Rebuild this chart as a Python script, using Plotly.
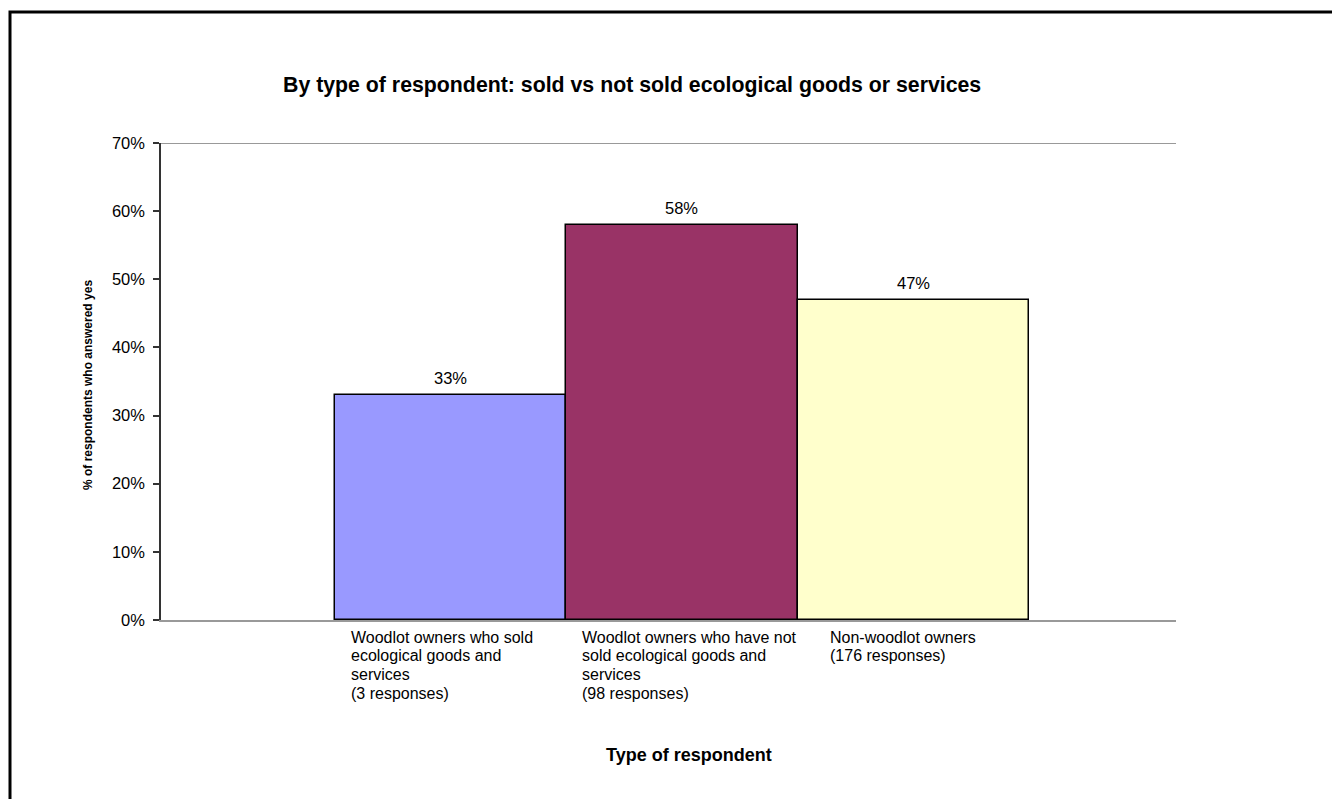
import plotly.graph_objects as go

# Survey results: share of respondents who answered yes, by respondent type
categories = [
    "Woodlot owners who sold<br>ecological goods and<br>services<br>(3 responses)",
    "Woodlot owners who have not<br>sold ecological goods and<br>services<br>(98 responses)",
    "Non-woodlot owners<br>(176 responses)",
]
values = [0.33, 0.58, 0.47]
colors = ["#9999FF", "#993366", "#FFFFCC"]
positions = [0, 1, 2]

FONT = "Liberation Sans, Arial, sans-serif"

fig = go.Figure()
fig.add_trace(go.Bar(
    x=positions,
    y=values,
    width=1.0,
    marker=dict(color=colors, line=dict(color="#000000", width=1.5)),
    hoverinfo="skip",
    showlegend=False,
))

# value labels above each bar
for xp, v in zip(positions, values):
    fig.add_annotation(
        x=xp, y=v, xref="x", yref="y",
        text=f"{round(v * 100)}%",
        showarrow=False, yanchor="bottom", yshift=6,
        font=dict(family=FONT, size=16.5, color="#000000"),
    )

# category labels, left-aligned under each bar, one line at a time
label_offsets = [0.06, 0.06, 0.13]
LINE_STEP = 18.7
for xp, lab, off in zip(positions, categories, label_offsets):
    for i, line in enumerate(lab.split("<br>")):
        fig.add_annotation(
            x=xp - 0.5 + off, y=0, xref="x", yref="y",
            text=line, showarrow=False,
            xanchor="left", yanchor="middle", align="left",
            yshift=-(17 + i * LINE_STEP),
            font=dict(family=FONT, size=16, color="#000000"),
        )

# top boundary line of the plot area
fig.add_shape(type="line", xref="paper", yref="y", x0=0, x1=1, y0=0.7, y1=0.7,
              line=dict(color="#999999", width=2))

# chart frame (left and top edges visible)
fig.add_shape(type="rect", xref="paper", yref="paper",
              x0=(10 - 161) / 1015, x1=(1345 - 161) / 1015,
              y0=(620 - 815) / 477, y1=(620 - 12) / 477,
              line=dict(color="#000000", width=3), layer="above")

fig.add_annotation(
    x=(632 - 161) / 1015, y=(620 - 85) / 477, xref="paper", yref="paper",
    text="<b>By type of respondent: sold vs not sold ecological goods or services</b>",
    showarrow=False, xanchor="center", yanchor="middle",
    font=dict(family=FONT, size=21.3, color="#000000"),
)
fig.add_annotation(
    x=(689 - 161) / 1015, y=(620 - 755) / 477, xref="paper", yref="paper",
    text="<b>Type of respondent</b>",
    showarrow=False, xanchor="center", yanchor="middle",
    font=dict(family=FONT, size=18, color="#000000"),
)
fig.add_annotation(
    x=(88 - 161) / 1015, y=(620 - 385) / 477, xref="paper", yref="paper",
    text="<b>% of respondents who answered yes</b>", textangle=-90,
    showarrow=False, xanchor="center", yanchor="middle",
    font=dict(family=FONT, size=12, color="#000000"),
)

fig.update_layout(
    width=1332, height=799,
    margin=dict(l=161, r=156, t=143, b=179),
    paper_bgcolor="#FFFFFF", plot_bgcolor="#FFFFFF",
    bargap=0,
    font=dict(family=FONT, color="#000000"),
)
fig.update_xaxes(
    range=[-1.252, 3.136], showticklabels=False, ticks="",
    showgrid=False, zeroline=False,
    showline=True, linecolor="#999999", linewidth=2,
)
fig.update_yaxes(
    range=[0, 0.7], dtick=0.1, tickformat=".0%",
    showgrid=False, zeroline=False,
    showline=True, linecolor="#333333", linewidth=1.5,
    ticks="outside", ticklen=6, tickcolor="#333333", tickwidth=1.5,
    ticklabelstandoff=5,
    tickfont=dict(family=FONT, size=16.5, color="#000000"),
)

fig.write_html("out.html")
